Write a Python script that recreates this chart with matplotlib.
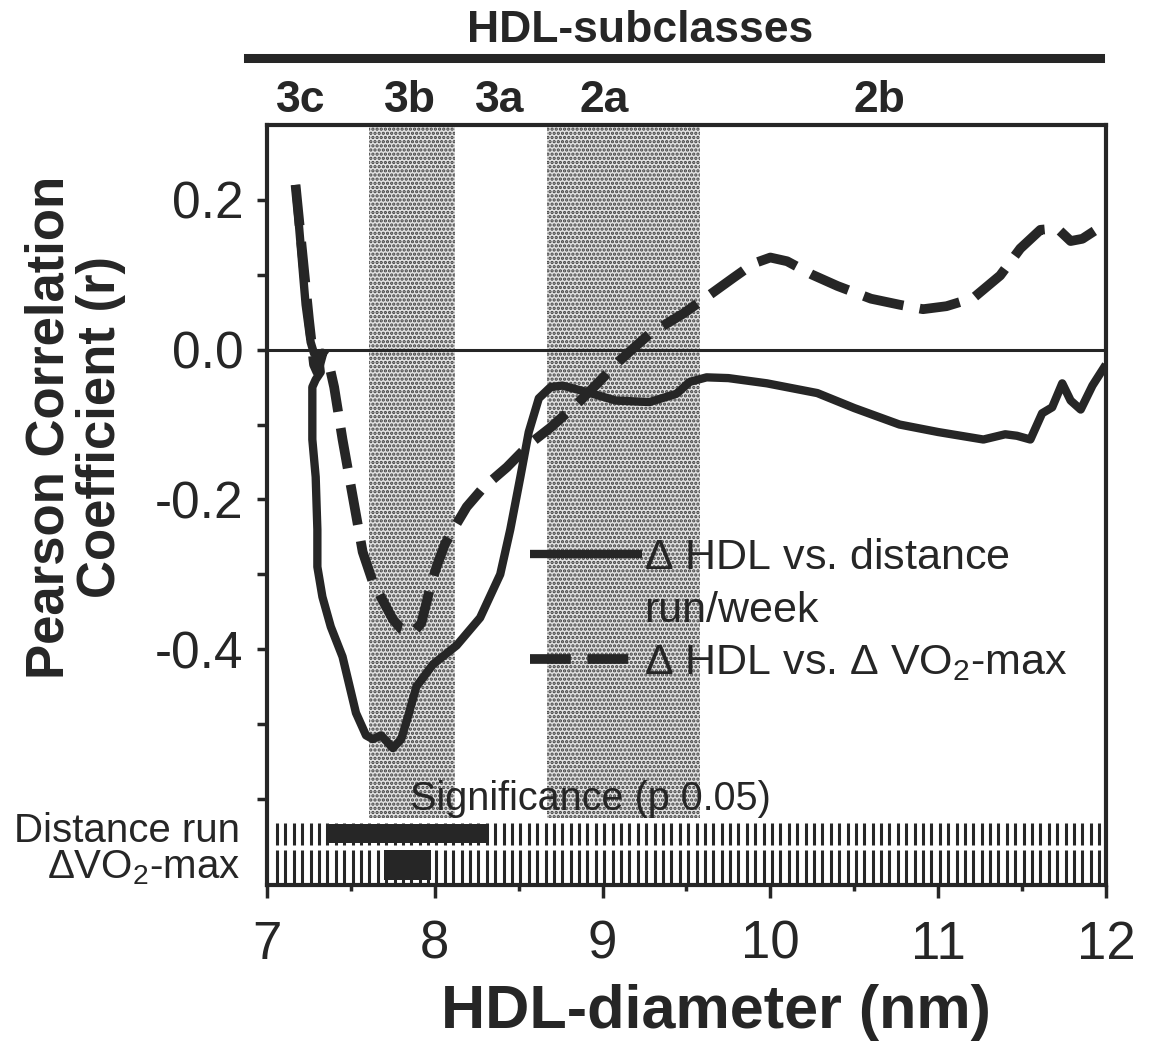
import matplotlib
matplotlib.use("Agg")
import matplotlib.pyplot as plt
from matplotlib.lines import Line2D
from matplotlib.transforms import blended_transform_factory
import numpy as np

plt.rcParams['font.family'] = ['Liberation Sans', 'DejaVu Sans']
plt.rcParams['mathtext.fontset'] = 'custom'
plt.rcParams['mathtext.rm'] = 'Liberation Sans'
plt.rcParams['mathtext.it'] = 'Liberation Sans:italic'
plt.rcParams['mathtext.bf'] = 'Liberation Sans:bold'
plt.rcParams['hatch.linewidth'] = 1.6

ink = "#262626"

# r vs HDL diameter, distance run/week (solid)
run_x = [7.17, 7.20, 7.23, 7.26, 7.28, 7.31, 7.32, 7.29, 7.27, 7.27, 7.29, 7.30,
         7.30, 7.33, 7.38, 7.45, 7.53, 7.59, 7.63, 7.68, 7.75, 7.80, 7.84, 7.89,
         7.99, 8.13, 8.27, 8.39, 8.45, 8.51, 8.56, 8.62, 8.69, 8.76, 8.88, 9.08,
         9.28, 9.44, 9.52, 9.62, 9.75, 9.98, 10.28, 10.50, 10.77, 11.00, 11.27,
         11.40, 11.47, 11.55, 11.62, 11.68, 11.74, 11.79, 11.85, 11.92, 12.00]
run_r = [0.22, 0.14, 0.06, 0.01, -0.005, -0.01, -0.03, -0.04, -0.05, -0.12, -0.17,
         -0.24, -0.29, -0.33, -0.37, -0.41, -0.485, -0.515, -0.52, -0.515, -0.532,
         -0.52, -0.49, -0.45, -0.42, -0.395, -0.358, -0.30, -0.24, -0.17, -0.11,
         -0.065, -0.05, -0.048, -0.055, -0.068, -0.07, -0.059, -0.043, -0.037,
         -0.038, -0.045, -0.058, -0.078, -0.10, -0.11, -0.12, -0.113, -0.115,
         -0.12, -0.085, -0.077, -0.045, -0.068, -0.08, -0.048, -0.02]

# r vs HDL diameter, delta VO2-max (dashed)
vo2_x = [7.17, 7.21, 7.25, 7.28, 7.30, 7.33, 7.36, 7.40, 7.45, 7.49, 7.53, 7.57,
         7.63, 7.69, 7.75, 7.80, 7.87, 7.92, 7.97, 8.01, 8.06, 8.11, 8.19, 8.29,
         8.43, 8.57, 8.69, 8.85, 8.97, 9.10, 9.28, 9.48, 9.65, 9.78, 9.90, 10.00,
         10.10, 10.25, 10.40, 10.60, 10.77, 10.91, 11.05, 11.21, 11.37, 11.49,
         11.61, 11.71, 11.79, 11.86, 11.99]
vo2_r = [0.22, 0.13, 0.04, -0.02, -0.03, -0.005, -0.01, -0.05, -0.12, -0.17, -0.22,
         -0.27, -0.31, -0.335, -0.36, -0.373, -0.378, -0.365, -0.32, -0.29, -0.26,
         -0.24, -0.21, -0.184, -0.157, -0.125, -0.104, -0.072, -0.045, -0.015,
         0.021, 0.048, 0.075, 0.096, 0.115, 0.123, 0.118, 0.10, 0.085, 0.068,
         0.06, 0.054, 0.058, 0.069, 0.099, 0.135, 0.16, 0.162, 0.145, 0.148, 0.167]

# HDL subclasses
sub_names = ["3c", "3b", "3a", "2a", "2b"]
sub_label_x = [7.20, 7.85, 8.39, 9.01, 10.65]
shaded_bands = [(7.61, 8.12), (8.67, 9.58)]

# significance (p<0.05) ranges
diam_start, diam_stop, diam_step = 7.06, 12.0, 0.05
sig_run = (7.37, 8.31)
sig_vo2 = (7.70, 7.98)

ytick_vals = [0.2, 0.1, 0.0, -0.1, -0.2, -0.3, -0.4, -0.5, -0.6]
ytick_labels = ["0.2", "", "0.0", "", "-0.2", "", "-0.4", "", ""]
xtick_vals = [7, 8, 9, 10, 11, 12]

fig = plt.figure(figsize=(11.57, 10.5), dpi=100)
ax = fig.add_axes([0.2308, 0.157, 0.725, 0.724])
ax.set_xlim(7, 12)
ax.set_ylim(-0.715, 0.3)

for x0, x1 in shaded_bands:
    ax.fill_between([x0, x1], -0.625, 0.3, facecolor="#e2e2e2", edgecolor="#404040",
                    hatch="....", linewidth=0, zorder=0)

ax.axhline(0, color=ink, lw=2.2, zorder=1)

l1, = ax.plot(run_x, run_r, color=ink, lw=6, solid_capstyle="butt",
              solid_joinstyle="round", zorder=3)
l2, = ax.plot(vo2_x, vo2_r, color=ink, lw=7, linestyle=(0, (4.2, 1.7)),
              dash_capstyle="butt", zorder=3)

# significance combs
grid_x = np.arange(diam_start, diam_stop, diam_step)
ax.vlines(grid_x, -0.662, -0.632, color=ink, lw=2.2, zorder=2)
ax.vlines(grid_x, -0.715, -0.668, color=ink, lw=2.2, zorder=2)
ax.barh(-0.646, sig_run[1] - sig_run[0], left=sig_run[0], height=0.026,
        color=ink, zorder=4)
ax.barh(-0.688, sig_vo2[1] - sig_vo2[0], left=sig_vo2[0], height=0.04,
        color=ink, zorder=4)
ax.text(8.93, -0.60, "Significance (p 0.05)", fontsize=28.5, ha="center",
        va="center", color=ink, zorder=5)

trans_y = blended_transform_factory(ax.transAxes, ax.transData)
ax.text(-0.032, -0.643, "Distance run", fontsize=29, ha="right", va="center",
        transform=trans_y, color=ink)
ax.text(-0.032, -0.692, r"$\Delta$VO$_2$-max", fontsize=29, ha="right",
        va="center", transform=trans_y, color=ink)

# legend
blank = Line2D([], [], color="none")
ax.legend([l1, blank, l2],
          [r"$\Delta$ HDL vs. distance", "run/week", r"$\Delta$ HDL vs. $\Delta$ VO$_2$-max"],
          loc="upper left", bbox_to_anchor=(0.313, 0.456), frameon=False,
          fontsize=31, handlelength=2.6, handletextpad=0.05, labelspacing=0.28,
          borderaxespad=0, borderpad=0, labelcolor=ink)

# axes styling
for s in ax.spines.values():
    s.set_linewidth(3)
    s.set_color(ink)
ax.set_yticks(ytick_vals)
ax.set_yticklabels(ytick_labels)
ax.set_xticks(xtick_vals)
ax.set_xticks([7.5, 8.5, 9.5, 10.5, 11.5], minor=True)
ax.tick_params(axis="y", direction="out", length=7, width=2.5, labelsize=37,
               pad=10, colors=ink)
ax.tick_params(axis="x", which="major", direction="out", length=9, width=2.5,
               labelsize=38, pad=16, colors=ink)
ax.tick_params(axis="x", which="minor", direction="out", length=4, width=2.5,
               colors=ink)
ax.set_xlabel("HDL-diameter (nm)", fontsize=44, fontweight="bold", color=ink,
              labelpad=10, x=0.535)

fig.text(0.065, 0.593, "Pearson Correlation\nCoefficient (r)", rotation=90,
         ha="center", va="center", multialignment="center", fontsize=38,
         fontweight="bold", color=ink, linespacing=1.04)

# subclass header
trans_x = blended_transform_factory(ax.transData, ax.transAxes)
for name, lx in zip(sub_names, sub_label_x):
    ax.text(lx, 1.032, name, fontsize=32, fontweight="bold", ha="center",
            va="center", transform=trans_x, color=ink)
fig.add_artist(Line2D([0.214, 0.951], [0.9448, 0.9448], color=ink, lw=6.5,
                      transform=fig.transFigure))
fig.text(0.553, 0.971, "HDL-subclasses", fontsize=32, fontweight="bold",
         ha="center", va="center", color=ink)

fig.savefig("out.png", dpi=100)
